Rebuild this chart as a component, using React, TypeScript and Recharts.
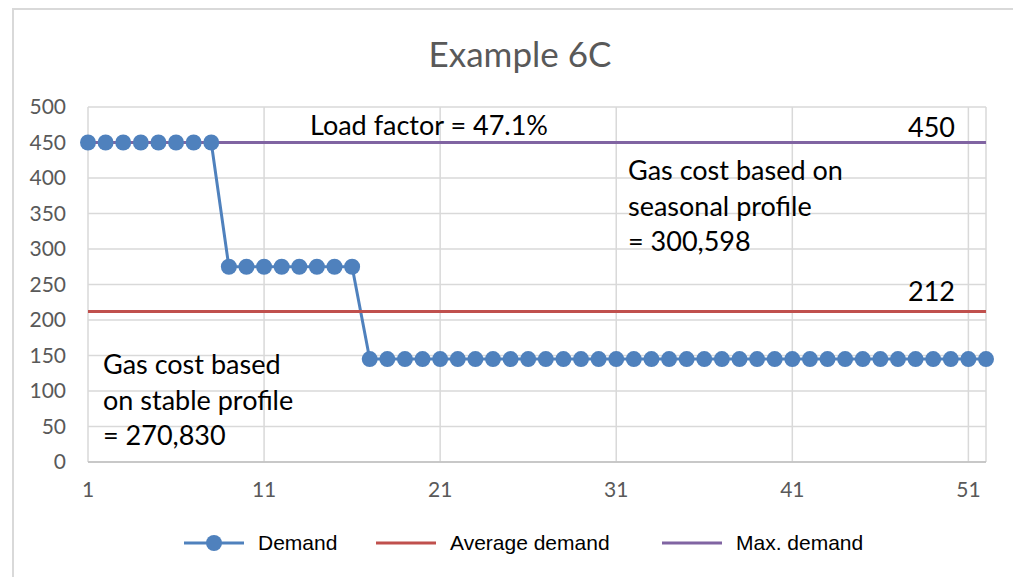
import { ComposedChart, Line, XAxis, YAxis, CartesianGrid, Legend } from 'recharts';

const weeks = [
  1, 2, 3, 4, 5, 6, 7, 8, 9, 10, 11, 12, 13, 14, 15, 16, 17, 18, 19, 20, 21, 22, 23, 24, 25, 26,
  27, 28, 29, 30, 31, 32, 33, 34, 35, 36, 37, 38, 39, 40, 41, 42, 43, 44, 45, 46, 47, 48, 49, 50, 51, 52,
];
const demand = [
  450, 450, 450, 450, 450, 450, 450, 450,
  275, 275, 275, 275, 275, 275, 275, 275,
  145, 145, 145, 145, 145, 145, 145, 145, 145, 145, 145, 145, 145, 145, 145, 145, 145, 145,
  145, 145, 145, 145, 145, 145, 145, 145, 145, 145, 145, 145, 145, 145, 145, 145, 145, 145,
];
const averageDemand = 212;
const maxDemand = 450;
const xTicks = [1, 11, 21, 31, 41, 51];
const yTicks = [0, 50, 100, 150, 200, 250, 300, 350, 400, 450, 500];

const BLUE = '#4f81bd';
const RED = '#c0504d';
const PURPLE = '#8064a2';
const GRID = '#d9d9d9';
const AXIS_TEXT = '#595959';
const FONT = 'Lato, "Open Sans", sans-serif';

const data = weeks.map((w, i) => ({
  week: w,
  demand: demand[i],
  avg: averageDemand,
  max: maxDemand,
}));

const legendItems = [
  { key: 'demand', label: 'Demand', color: BLUE, dot: true, left: 184 },
  { key: 'avg', label: 'Average demand', color: RED, dot: false, left: 376 },
  { key: 'max', label: 'Max. demand', color: PURPLE, dot: false, left: 662 },
];

function ChartLegend() {
  return (
    <div style={{ position: 'relative', width: 1013, height: 28 }}>
      {legendItems.map(it => (
        <div key={it.key} style={{ position: 'absolute', left: it.left, top: 0, display: 'flex', alignItems: 'center', height: 28 }}>
          <svg width={60} height={20}>
            <line x1={0} y1={10} x2={60} y2={10} stroke={it.color} strokeWidth={3} />
            {it.dot && <circle cx={30} cy={10} r={8} fill={it.color} />}
          </svg>
          <span style={{ marginLeft: 14, fontFamily: '"Liberation Sans", Arial, sans-serif', fontSize: 21, color: '#000' }}>
            {it.label}
          </span>
        </div>
      ))}
    </div>
  );
}

const note: React.CSSProperties = {
  position: 'absolute',
  fontFamily: FONT,
  fontSize: 27,
  lineHeight: '35.5px',
  color: '#000',
  whiteSpace: 'nowrap',
};

export default function App() {
  return (
    <div style={{ position: 'absolute', left: 0, top: 0, width: 1013, height: 577, overflow: 'hidden', background: '#fff' }}>
      <div style={{ position: 'absolute', left: 12, top: 8, width: 1100, height: 700, border: '2px solid #d9d9d9', boxSizing: 'border-box' }} />
      <div style={{ position: 'absolute', left: 320, top: 32, width: 400, textAlign: 'center', fontFamily: FONT, fontSize: 35, color: AXIS_TEXT }}>
        Example 6C
      </div>
      <div style={{ position: 'absolute', left: 0, top: 0 }}>
        {/* bottom margin = 115 minus x-axis height (40) and legend height (28) */}
        <ComposedChart width={1013} height={577} data={data} margin={{ top: 107, right: 27, bottom: 47, left: 0 }}>
          <CartesianGrid stroke={GRID} strokeWidth={1.5} />
          <XAxis
            dataKey="week"
            type="number"
            domain={[1, 52]}
            ticks={xTicks}
            interval={0}
            tickLine={false}
            axisLine={{ stroke: '#bfbfbf', strokeWidth: 1.5 }}
            tick={{ fill: AXIS_TEXT, fontSize: 21, fontFamily: FONT }}
            tickSize={0}
            tickMargin={20}
            height={40}
          />
          <YAxis
            domain={[0, 500]}
            ticks={yTicks}
            interval={0}
            tickLine={false}
            axisLine={false}
            tick={{ fill: AXIS_TEXT, fontSize: 21, fontFamily: FONT }}
            tickSize={0}
            tickMargin={22}
            width={88}
          />
          <Legend verticalAlign="bottom" wrapperStyle={{ left: 0, top: 529, width: 1013 }} content={() => <ChartLegend />} />
          <Line
            dataKey="demand"
            name="Demand"
            stroke={BLUE}
            strokeWidth={3}
            dot={{ r: 8, fill: BLUE, stroke: BLUE, strokeWidth: 0 }}
            isAnimationActive={false}
          />
          <Line dataKey="avg" name="Average demand" stroke={RED} strokeWidth={3} dot={false} isAnimationActive={false} />
          <Line dataKey="max" name="Max. demand" stroke={PURPLE} strokeWidth={3} dot={false} isAnimationActive={false} />
        </ComposedChart>
      </div>
      <div style={{ ...note, left: 310, top: 107 }}>Load factor = 47.1%</div>
      <div style={{ ...note, right: 1013 - 955, top: 109 }}>450</div>
      <div style={{ ...note, right: 1013 - 955, top: 273 }}>212</div>
      <div style={{ ...note, left: 628, top: 152 }}>
        Gas cost based on<br />seasonal profile<br />= 300,598
      </div>
      <div style={{ ...note, left: 103, top: 346 }}>
        Gas cost based<br />on stable profile<br />= 270,830
      </div>
    </div>
  );
}
